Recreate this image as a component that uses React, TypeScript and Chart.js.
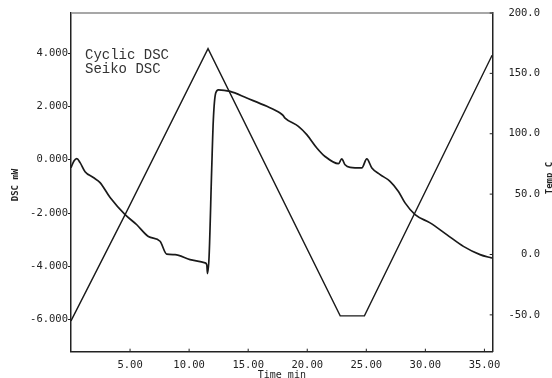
import React, { useEffect, useRef } from "react";
import { Chart, registerables } from "chart.js";

Chart.register(...registerables);

// DSC signal (left axis, mW) vs time (min)
const dscTime = [
  0.0, 0.25, 0.49, 0.77, 1.19, 1.89, 2.46, 3.31, 4.58, 5.57, 6.55, 7.54, 8.1, 8.81,
  10.08, 11.35, 11.5, 11.55, 11.69, 11.91, 12.05, 12.25, 12.48, 13.47, 14.88, 16.58,
  17.7, 17.95, 18.12, 19.25, 19.96, 20.81, 21.51, 22.64, 22.92, 23.2, 23.63, 24.62,
  25.04, 25.47, 26.17, 27.01, 27.72, 28.28, 29.13, 30.4, 31.81, 33.22, 34.63, 35.63,
];
const dscValue = [
  -0.3, -0.05, 0.04, -0.11, -0.45, -0.67, -0.86, -1.42, -2.06, -2.44, -2.88, -3.06, -3.54, -3.56,
  -3.75, -3.87, -3.95, -4.27, -3.63, -0.37, 1.5, 2.5, 2.62, 2.56, 2.31, 2.0,
  1.75, 1.66, 1.56, 1.25, 0.94, 0.44, 0.12, -0.15, 0.03, -0.19, -0.29, -0.31,
  0.03, -0.31, -0.56, -0.81, -1.19, -1.62, -2.06, -2.37, -2.81, -3.25, -3.56, -3.69,
];

// Temperature program (right axis, °C) vs time (min)
const tempTime = [0.0, 4.58, 11.6, 22.79, 24.84, 35.65];
const tempValue = [-55, 33, 170.5, -50.8, -50.8, 165];

// Axis ticks
const xTicks = [5, 10, 15, 20, 25, 30, 35];
const leftTicks = [-6, -4, -2, 0, 2, 4];
const rightTicks = [-50, 0, 50, 100, 150, 200];

const annotationLines = ["Cyclic DSC", "Seiko DSC"];
const xTitle = "Time min";
const leftTitle = "DSC mW";
const rightTitle = "Temp C";

const MONO = '"DejaVu Sans Mono", monospace';

const decorPlugin = {
  id: "decor",
  afterDraw(chart: any) {
    const { ctx, chartArea, scales } = chart;
    const { left, right, top, bottom } = chartArea;
    ctx.save();
    // top frame line (grey)
    ctx.strokeStyle = "#8a8a8a";
    ctx.lineWidth = 1.5;
    ctx.beginPath();
    ctx.moveTo(left, top);
    ctx.lineTo(right, top);
    ctx.stroke();

    // inward tick marks on x and right axes
    ctx.strokeStyle = "#222";
    ctx.lineWidth = 1;
    ctx.beginPath();
    xTicks.forEach((v) => {
      const px = scales.x.getPixelForValue(v);
      ctx.moveTo(px, bottom);
      ctx.lineTo(px, bottom - 3);
    });
    rightTicks.forEach((v) => {
      const py = scales.y2.getPixelForValue(v);
      ctx.moveTo(right, py);
      ctx.lineTo(right - 3, py);
    });
    ctx.stroke();

    // annotation
    ctx.fillStyle = "#333";
    ctx.font = '14px "Liberation Mono", monospace';
    ctx.textAlign = "left";
    ctx.textBaseline = "alphabetic";
    ctx.fillText(annotationLines[0], 85, 58.5);
    ctx.fillText(annotationLines[1], 85, 72.5);

    // x title
    ctx.fillStyle = "#222";
    ctx.font = "10px " + MONO;
    ctx.textAlign = "center";
    ctx.fillText(xTitle, (left + right) / 2, 378);

    // left title
    ctx.font = "bold 9px " + MONO;
    ctx.save();
    ctx.translate(16, 185);
    ctx.rotate(-Math.PI / 2);
    ctx.textAlign = "center";
    ctx.textBaseline = "middle";
    ctx.fillText(leftTitle, 0, 0);
    ctx.restore();

    // right title (partly outside the frame, as in the source)
    ctx.save();
    ctx.translate(550, 178);
    ctx.rotate(-Math.PI / 2);
    ctx.textAlign = "center";
    ctx.textBaseline = "middle";
    ctx.fillText(rightTitle, 0, 0);
    ctx.restore();

    ctx.restore();
  },
};

export default function App() {
  const canvasRef = useRef<HTMLCanvasElement | null>(null);

  useEffect(() => {
    if (!canvasRef.current) return;
    const dscData = dscTime.map((t, i) => ({ x: t, y: dscValue[i] }));
    const tempData = tempTime.map((t, i) => ({ x: t, y: tempValue[i] }));
    const tickFont = { family: MONO, size: 10.5 };

    const chart = new Chart(canvasRef.current, {
      type: "line",
      data: {
        datasets: [
          {
            label: "DSC",
            data: dscData,
            yAxisID: "y",
            borderColor: "#1a1a1a",
            borderWidth: 1.7,
            pointRadius: 0,
            cubicInterpolationMode: "monotone",
            fill: false,
          },
          {
            label: "Temp",
            data: tempData,
            yAxisID: "y2",
            borderColor: "#1a1a1a",
            borderWidth: 1.4,
            pointRadius: 0,
            tension: 0,
            fill: false,
          },
        ],
      },
      options: {
        animation: false,
        responsive: true,
        maintainAspectRatio: false,
        layout: { padding: { top: 13, left: 0, right: 12, bottom: 0 } },
        plugins: {
          legend: { display: false },
          tooltip: { enabled: false },
        },
        scales: {
          x: {
            type: "linear",
            min: 0,
            max: 35.7,
            afterFit: (s: any) => {
              s.height = 26.3;
              s.paddingLeft = 0;
              s.paddingRight = 0;
            },
            afterBuildTicks: (s: any) => {
              s.ticks = xTicks.map((v) => ({ value: v }));
            },
            ticks: {
              autoSkip: false,
              maxRotation: 0,
              padding: 7,
              color: "#222",
              font: tickFont,
              callback: (v: any) => Number(v).toFixed(2),
            },
            grid: { drawOnChartArea: false, drawTicks: false },
            border: { display: true, color: "#222", width: 1.5 },
          },
          y: {
            type: "linear",
            position: "left",
            min: -7.2,
            max: 5.5,
            afterFit: (s: any) => {
              s.width = 71;
              s.paddingTop = 0;
              s.paddingBottom = 0;
            },
            afterBuildTicks: (s: any) => {
              s.ticks = leftTicks.map((v) => ({ value: v }));
            },
            ticks: {
              autoSkip: false,
              padding: 0,
              color: "#222",
              font: tickFont,
              callback: (v: any) => Number(v).toFixed(3),
            },
            grid: {
              drawOnChartArea: false,
              drawTicks: true,
              tickLength: 3,
              color: "#222",
            },
            border: { display: true, color: "#222", width: 1.5 },
          },
          y2: {
            type: "linear",
            position: "right",
            min: -80.5,
            max: 200,
            afterFit: (s: any) => {
              s.width = 47.3;
              s.paddingTop = 0;
              s.paddingBottom = 0;
            },
            afterBuildTicks: (s: any) => {
              s.ticks = rightTicks.map((v) => ({ value: v }));
            },
            ticks: {
              autoSkip: false,
              padding: 15,
              crossAlign: "far",
              color: "#222",
              font: tickFont,
              callback: (v: any) => Number(v).toFixed(1),
            },
            grid: { drawOnChartArea: false, drawTicks: false },
            border: { display: true, color: "#222", width: 1.5 },
          },
        },
      },
      plugins: [decorPlugin],
    } as any);

    return () => chart.destroy();
  }, []);

  return (
    <div
      style={{
        position: "fixed",
        left: 0,
        top: 0,
        width: 552,
        height: 378,
        background: "#fff",
      }}
    >
      <canvas ref={canvasRef} style={{ display: "block" }} />
    </div>
  );
}
